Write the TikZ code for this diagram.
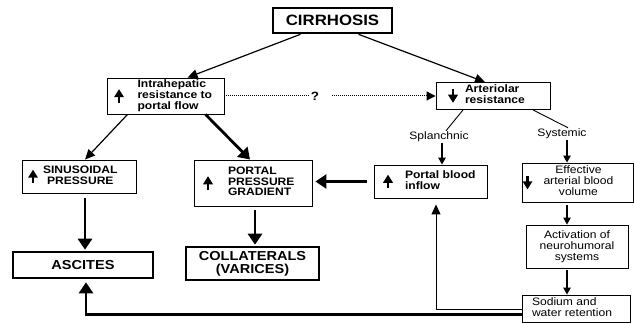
\documentclass[tikz,border=0pt]{standalone}
\usepackage{fontspec}
\setmainfont{Liberation Sans}[FakeStretch=1.12]
\usetikzlibrary{arrows.meta}
\newcommand\fs{\fontsize{10.8}{10.8}\selectfont}
\newcommand\upa{$\vcenter{\hbox{\tikz[x=1pt,y=1pt]{\fill (-1.1,0) rectangle (1.1,6); \fill (-5,5.5) -- (5,5.5) -- (0,13.5) -- cycle;}}}$}
\newcommand\dna{$\vcenter{\hbox{\tikz[x=1pt,y=1pt]{\fill (-1.1,13.5) rectangle (1.1,7.5); \fill (-5,8) -- (5,8) -- (0,0) -- cycle;}}}$}
\tikzset{
 box/.style={draw, line width=0.9pt, inner sep=0pt, align=left},
 cbox/.style={draw, line width=0.9pt, inner sep=0pt, align=center},
 tbox/.style={draw, line width=2.6pt, inner sep=0pt, align=center, font=\fontsize{13}{12.8}\selectfont\bfseries},
 thinarr/.style={line width=1.2pt, -{Triangle[length=10pt,width=9pt]}},
 smallarr/.style={line width=1.1pt, -{Triangle[length=7pt,width=7.5pt]}},
 thickarr/.style={line width=2.8pt, -{Triangle[length=11pt,width=14pt]}},
 dotline/.style={line width=1pt, dash pattern=on 1pt off 1pt},
 lbl/.style={inner sep=1pt, font=\fs},
}
\begin{document}
\begin{tikzpicture}[x=1pt,y=-1pt]
\useasboundingbox (0,0) rectangle (634,323);
% boxes
\node[tbox, minimum width=119pt, minimum height=25pt, font=\fontsize{15}{17}\selectfont\bfseries] (cir) at (332.5,20.5) {CIRRHOSIS};
\node[box, text width=117pt, minimum height=36pt] (ih) at (165.5,96) {\fs\bfseries\noindent\hspace*{7pt}\upa\hspace{13.5pt}\begin{tabular}{@{}l@{}}Intrahepatic\\resistance to\\portal flow\end{tabular}};
\node[box, text width=114pt, minimum height=27pt] (ar) at (493,96) {\fs\bfseries\noindent\hspace*{12pt}\dna\hspace{7pt}\begin{tabular}{@{}l@{}}Arteriolar\\resistance\end{tabular}};
\node[font=\fontsize{12}{14}\selectfont\bfseries, inner sep=1pt] (q) at (315,96) {?};
\node[lbl] (spl) at (439,137) {Splanchnic};
\node[lbl] (sys) at (562,134) {Systemic};
\node[box, text width=114pt, minimum height=33pt] (sin) at (79,176.5) {\fs\bfseries\noindent\hspace*{6pt}\upa\hspace{5pt}\begin{tabular}{@{}c@{}}SINUSOIDAL\\PRESSURE\end{tabular}};
\node[box, text width=118pt, minimum height=46pt] (ppg) at (253,183) {\fs\bfseries\noindent\hspace*{9pt}\upa\hspace{15pt}\begin{tabular}{@{}l@{}}PORTAL\\PRESSURE\\GRADIENT\end{tabular}};
\node[box, text width=113pt, minimum height=33pt] (pbi) at (430.5,181.5) {\fs\bfseries\noindent\hspace*{9pt}\upa\hspace{12pt}\begin{tabular}{@{}l@{}}Portal blood\\inflow\end{tabular}};
\node[box, text width=111pt, minimum height=39pt] (eab) at (577.5,182.5) {\fs\noindent\hspace*{0.5pt}\dna\hspace{11pt}\begin{tabular}{@{}c@{}}Effective\\arterial blood\\volume\end{tabular}};
\node[cbox, minimum width=102pt, minimum height=43pt, font=\fs] (act) at (577,246.5) {Activation of\\neurohumoral\\systems};
\node[box, text width=108pt, minimum height=27pt] (sod) at (576,308.5) {\fontsize{10.8}{10}\selectfont\noindent\hspace*{10pt}\begin{tabular}{@{}l@{}}Sodium and\\water retention\end{tabular}};
\node[tbox, minimum width=140pt, minimum height=26pt] (asc) at (83,265) {ASCITES};
\node[tbox, minimum width=133pt, minimum height=33pt] (col) at (252.5,263.5) {COLLATERALS\\(VARICES)};
% connectors
\draw[thinarr] ([xshift=-32pt]cir.south) -- ([xshift=22pt]ih.north);
\draw[thinarr] ([xshift=26pt]cir.south) -- ([xshift=-8pt]ar.north);
\draw[dotline] (ih.east) -- (q.west);
\draw[dotline, -{Triangle[length=9pt,width=9pt]}] (q.east) ++(12pt,0) coordinate (qs) (qs) -- (ar.west);
\draw[line width=0.9pt] ([xshift=-30pt]ar.south) -- ([xshift=7pt]spl.north);
\draw[line width=0.9pt] ([xshift=40pt]ar.south) -- ([xshift=6pt]sys.north);
\draw[smallarr] ([xshift=3pt]spl.south) -- ([xshift=11.5pt]pbi.north);
\draw[smallarr] ([xshift=5pt]sys.south) -- ([xshift=-10.5pt]eab.north);
\draw[smallarr, shorten <=3pt] ([xshift=-10.5pt]eab.south) -- ([xshift=-10pt]act.north);
\draw[smallarr, shorten <=2pt] ([xshift=-10pt]act.south) -- ([xshift=-9pt]sod.north);
\draw[thinarr, line width=1pt, shorten >=6pt] ([yshift=-1pt]sod.west) -| ([xshift=5.5pt]pbi.south);
\draw[thickarr, shorten >=3pt] ([yshift=-6pt]sod.west) -| ([xshift=3pt]asc.south);
\draw[thinarr] ([xshift=-38pt]ih.south) -- ([xshift=6pt]sin.north);
\draw[thickarr] ([xshift=40pt]ih.south) -- ([xshift=-3pt]ppg.north);
\draw[thickarr, shorten <=7pt, shorten >=3pt] (pbi.west) -- (ppg.east |- pbi.west);
\draw[thickarr, shorten <=5pt, shorten >=1pt] ([xshift=6pt]sin.south) -- ([xshift=2pt]asc.north);
\draw[thickarr, shorten <=4pt, shorten >=1pt] ([xshift=2pt]ppg.south) -- ([xshift=2.5pt]col.north);
\end{tikzpicture}
\end{document}
